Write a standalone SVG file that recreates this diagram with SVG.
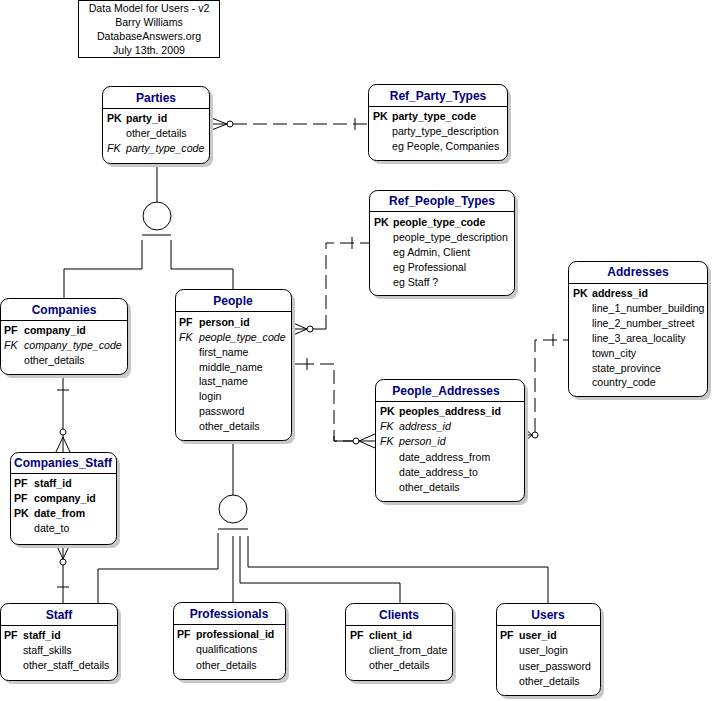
<svg xmlns="http://www.w3.org/2000/svg" width="713" height="701" viewBox="0 0 713 701">
<style>
text{font-family:"Liberation Sans",Arial,sans-serif;font-size:10.6px;fill:#000}
.t{font-weight:bold;fill:#000080;font-size:12px;text-anchor:middle}
.b{font-weight:bold}
.i{font-style:italic}
.box{fill:#fff;stroke:#000;stroke-width:1}
.sh{fill:#c8c8c8}
.ln{fill:none;stroke:#000;stroke-width:1}
.d{stroke-dasharray:14,6}
.c{fill:#fff;stroke:#000}
</style>
<rect width="713" height="701" fill="#fff"/>
<g id="title">
<rect x="78.5" y="0.5" width="141" height="57" fill="#fff" stroke="#000"/>
<text x="149" y="12" text-anchor="middle">Data Model for Users - v2</text>
<text x="149" y="26" text-anchor="middle">Barry Williams</text>
<text x="149" y="40" text-anchor="middle">DatabaseAnswers.org</text>
<text x="149" y="54" text-anchor="middle">July 13th. 2009</text>
</g>
<g id="connectors">
<path class="ln d" d="M233 124 H368"/>
<path class="ln" d="M209 117 L227 124 L209 131 M209 124 H227 M355 118 V130"/>
<circle class="c" cx="230" cy="124" r="3"/>
<path class="ln" d="M313 329 H326"/>
<path class="ln d" d="M326 329 V243 H369"/>
<path class="ln" d="M291 322 L307 329 L291 336 M291 329 H307 M352 237 V249"/>
<circle class="c" cx="310" cy="329" r="3"/>
<path class="ln" d="M291 364 H314"/>
<path class="ln d" d="M320 364 H334 V441 H353"/>
<path class="ln" d="M334 436 V441 H353 M307 358 V370 M375 434 L359 441 L375 448 M375 441 H359"/>
<circle class="c" cx="356" cy="441" r="3"/>
<path class="ln d" d="M535 432 V340 H568"/>
<path class="ln" d="M524 428 L532 435 L524 442 M524 435 H532 M553 334 V346"/>
<circle class="c" cx="535" cy="435" r="3"/>
<path class="ln" d="M63 374 V429 M63 435 V452 M57 390 H69 M56 452 L63 437 L70 452"/>
<circle class="c" cx="63" cy="432" r="3"/>
<path class="ln" d="M63 544 V559 M63 565 V603 M56 544 L63 559 L70 544 M57 587 H69"/>
<circle class="c" cx="63" cy="562" r="3"/>
<path class="ln" d="M157 163 V202 M142 235 H171 M142 240 V269 H64 V298 M171 240 V269 H233 V290"/>
<circle class="c" cx="157" cy="216" r="14"/>
<path class="ln" d="M233 440 V495 M218 529 H248 M218 533 V569 H98 V603 M233 536 V603 M240 536 V583 H400 V603 M248 536 V567 H548 V603"/>
<circle class="c" cx="233" cy="509" r="14"/>
</g>
<g id="Parties">
<rect class="sh" x="106" y="90" width="107" height="77" rx="8"/>
<rect class="box" x="102.5" y="86.5" width="107" height="77" rx="8"/>
<path class="ln" d="M102.5 108.5 H209.5"/>
<text class="t" x="156" y="102">Parties</text>
<text class="b" x="107" y="122">PK</text><text class="b" x="126" y="122">party_id</text>
<text x="126" y="137">other_details</text>
<text class="i" x="107" y="152">FK</text><text class="i" x="126" y="152">party_type_code</text>
</g>
<g id="Ref_Party_Types">
<rect class="sh" x="372" y="88" width="139" height="76" rx="8"/>
<rect class="box" x="368.5" y="84.5" width="139" height="76" rx="8"/>
<path class="ln" d="M368.5 106.5 H507.5"/>
<text class="t" x="438" y="100">Ref_Party_Types</text>
<text class="b" x="373" y="120">PK</text><text class="b" x="392" y="120">party_type_code</text>
<text x="392" y="135">party_type_description</text>
<text x="392" y="150">eg People, Companies</text>
</g>
<g id="Ref_People_Types">
<rect class="sh" x="373" y="194" width="145" height="105" rx="8"/>
<rect class="box" x="369.5" y="190.5" width="145" height="105" rx="8"/>
<path class="ln" d="M369.5 211.5 H514.5"/>
<text class="t" x="442" y="205">Ref_People_Types</text>
<text class="b" x="374" y="226">PK</text><text class="b" x="393" y="226">people_type_code</text>
<text x="393" y="241">people_type_description</text>
<text x="393" y="256">eg Admin, Client</text>
<text x="393" y="271">eg Professional</text>
<text x="393" y="286">eg Staff ?</text>
</g>
<g id="Addresses">
<rect class="sh" x="572" y="265" width="139" height="135" rx="8"/>
<rect class="box" x="568.5" y="261.5" width="139" height="135" rx="8"/>
<path class="ln" d="M568.5 283.5 H707.5"/>
<text class="t" x="638" y="276">Addresses</text>
<text class="b" x="573" y="297">PK</text><text class="b" x="592" y="297">address_id</text>
<text x="592" y="312">line_1_number_building</text>
<text x="592" y="327">line_2_number_street</text>
<text x="592" y="342">line_3_area_locality</text>
<text x="592" y="357">town_city</text>
<text x="592" y="372">state_province</text>
<text x="592" y="386">country_code</text>
</g>
<g id="Companies">
<rect class="sh" x="4" y="302" width="127" height="76" rx="8"/>
<rect class="box" x="0.5" y="298.5" width="127" height="76" rx="8"/>
<path class="ln" d="M0.5 320.5 H127.5"/>
<text class="t" x="64" y="314">Companies</text>
<text class="b" x="4" y="334">PF</text><text class="b" x="24" y="334">company_id</text>
<text class="i" x="4" y="349">FK</text><text class="i" x="24" y="349">company_type_code</text>
<text x="24" y="364">other_details</text>
</g>
<g id="People">
<rect class="sh" x="179" y="293" width="116" height="151" rx="8"/>
<rect class="box" x="175.5" y="289.5" width="116" height="151" rx="8"/>
<path class="ln" d="M175.5 311.5 H291.5"/>
<text class="t" x="233" y="305">People</text>
<text class="b" x="179" y="326">PF</text><text class="b" x="199" y="326">person_id</text>
<text class="i" x="179" y="341">FK</text><text class="i" x="199" y="341">people_type_code</text>
<text x="199" y="356">first_name</text>
<text x="199" y="371">middle_name</text>
<text x="199" y="385">last_name</text>
<text x="199" y="400">login</text>
<text x="199" y="415">password</text>
<text x="199" y="430">other_details</text>
</g>
<g id="People_Addresses">
<rect class="sh" x="379" y="383" width="149" height="122" rx="8"/>
<rect class="box" x="375.5" y="379.5" width="149" height="122" rx="8"/>
<path class="ln" d="M375.5 401.5 H524.5"/>
<text class="t" x="446" y="395">People_Addresses</text>
<text class="b" x="380" y="415">PK</text><text class="b" x="399" y="415">peoples_address_id</text>
<text class="i" x="380" y="430">FK</text><text class="i" x="399" y="430">address_id</text>
<text class="i" x="380" y="445">FK</text><text class="i" x="399" y="445">person_id</text>
<text x="399" y="461">date_address_from</text>
<text x="399" y="476">date_address_to</text>
<text x="399" y="491">other_details</text>
</g>
<g id="Companies_Staff">
<rect class="sh" x="14" y="456" width="106" height="92" rx="8"/>
<rect class="box" x="10.5" y="452.5" width="106" height="92" rx="8"/>
<path class="ln" d="M10.5 473.5 H116.5"/>
<text class="t" x="63" y="467">Companies_Staff</text>
<text class="b" x="14" y="487">PF</text><text class="b" x="34" y="487">staff_id</text>
<text class="b" x="14" y="502">PF</text><text class="b" x="34" y="502">company_id</text>
<text class="b" x="14" y="517">PK</text><text class="b" x="34" y="517">date_from</text>
<text x="34" y="532">date_to</text>
</g>
<g id="Staff">
<rect class="sh" x="4" y="607" width="117" height="77" rx="8"/>
<rect class="box" x="0.5" y="603.5" width="117" height="77" rx="8"/>
<path class="ln" d="M0.5 625.5 H117.5"/>
<text class="t" x="59" y="619">Staff</text>
<text class="b" x="4" y="639">PF</text><text class="b" x="23" y="639">staff_id</text>
<text x="23" y="654">staff_skills</text>
<text x="23" y="669">other_staff_details</text>
</g>
<g id="Professionals">
<rect class="sh" x="177" y="606" width="112" height="77" rx="8"/>
<rect class="box" x="173.5" y="602.5" width="112" height="77" rx="8"/>
<path class="ln" d="M173.5 624.5 H285.5"/>
<text class="t" x="229" y="618">Professionals</text>
<text class="b" x="177" y="638">PF</text><text class="b" x="196" y="638">professional_id</text>
<text x="196" y="653">qualifications</text>
<text x="196" y="669">other_details</text>
</g>
<g id="Clients">
<rect class="sh" x="349" y="607" width="107" height="77" rx="8"/>
<rect class="box" x="345.5" y="603.5" width="107" height="77" rx="8"/>
<path class="ln" d="M345.5 625.5 H452.5"/>
<text class="t" x="399" y="619">Clients</text>
<text class="b" x="350" y="639">PF</text><text class="b" x="369" y="639">client_id</text>
<text x="369" y="654">client_from_date</text>
<text x="369" y="669">other_details</text>
</g>
<g id="Users">
<rect class="sh" x="500" y="607" width="104" height="92" rx="8"/>
<rect class="box" x="496.5" y="603.5" width="104" height="92" rx="8"/>
<path class="ln" d="M496.5 625.5 H600.5"/>
<text class="t" x="548" y="619">Users</text>
<text class="b" x="500" y="639">PF</text><text class="b" x="519" y="639">user_id</text>
<text x="519" y="654">user_login</text>
<text x="519" y="670">user_password</text>
<text x="519" y="685">other_details</text>
</g>
</svg>
